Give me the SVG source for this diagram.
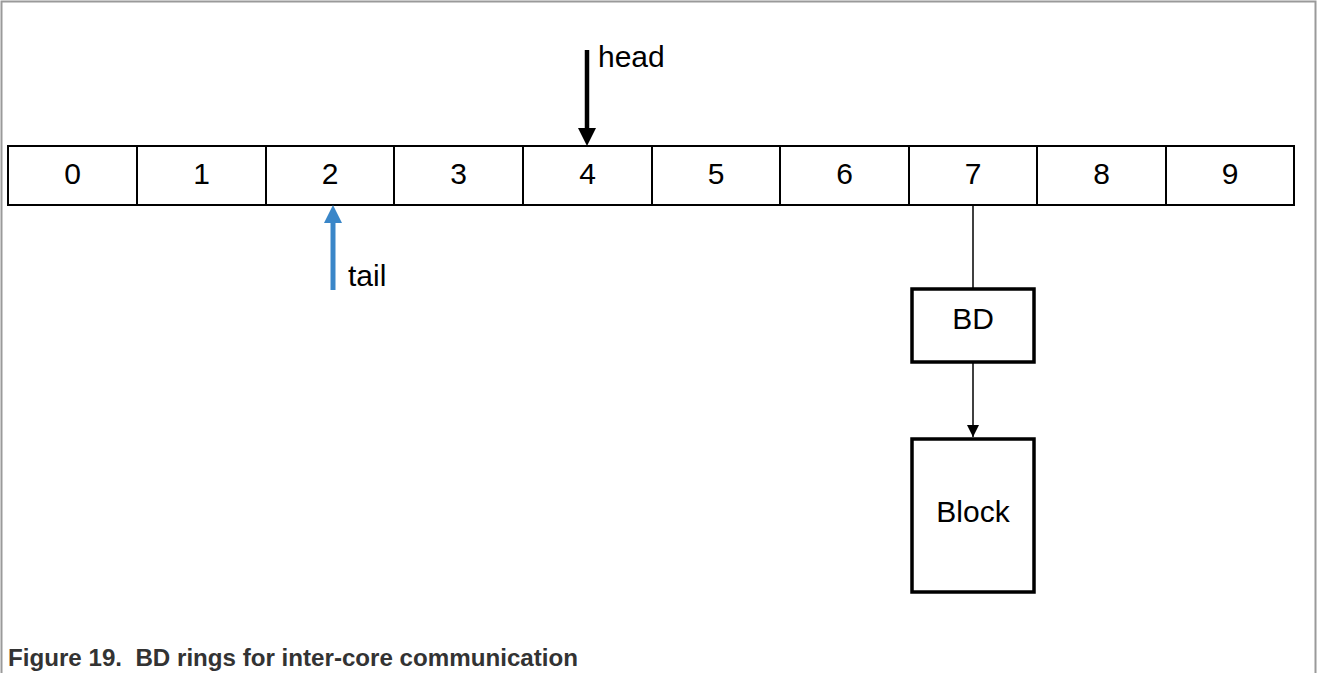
<svg xmlns="http://www.w3.org/2000/svg" width="1317" height="673" viewBox="0 0 1317 673">
<style>
.cell{fill:#fff;stroke:#000;stroke-width:2}
.box{fill:#fff;stroke:#000;stroke-width:3.5}
.t{font-family:"Liberation Sans",Arial,sans-serif;font-size:30px;fill:#000}
.c{text-anchor:middle}
.cap{font-family:"Liberation Sans",Arial,sans-serif;font-size:24px;font-weight:bold;fill:#333;white-space:pre}
</style>
<defs>
<marker id="ah" markerWidth="12" markerHeight="12" refX="12" refY="6" orient="auto" markerUnits="userSpaceOnUse"><path d="M0,0 L12,6 L0,12 Z" fill="#000"/></marker>
</defs>
<g id="frame" fill="none" stroke="#9a9a9a" stroke-width="2">
<path d="M1.5,673 V1.5 H1315.5 V673"/>
</g>
<g id="ring">
<rect class="cell" x="8" y="146" width="129" height="59"/>
<rect class="cell" x="137" y="146" width="129" height="59"/>
<rect class="cell" x="266" y="146" width="128" height="59"/>
<rect class="cell" x="394" y="146" width="129" height="59"/>
<rect class="cell" x="523" y="146" width="129" height="59"/>
<rect class="cell" x="652" y="146" width="128" height="59"/>
<rect class="cell" x="780" y="146" width="129" height="59"/>
<rect class="cell" x="909" y="146" width="128" height="59"/>
<rect class="cell" x="1037" y="146" width="129" height="59"/>
<rect class="cell" x="1166" y="146" width="128" height="59"/>
<text class="t c" x="72.5" y="184">0</text>
<text class="t c" x="201.5" y="184">1</text>
<text class="t c" x="330" y="184">2</text>
<text class="t c" x="458.5" y="184">3</text>
<text class="t c" x="587.5" y="184">4</text>
<text class="t c" x="716" y="184">5</text>
<text class="t c" x="844.5" y="184">6</text>
<text class="t c" x="973" y="184">7</text>
<text class="t c" x="1101.5" y="184">8</text>
<text class="t c" x="1230" y="184">9</text>
</g>
<g id="head">
<line x1="587" y1="50" x2="587" y2="130" stroke="#000" stroke-width="4.5"/>
<path d="M578,128 L596,128 L587,146 Z" fill="#000"/>
<text class="t" x="598" y="67">head</text>
</g>
<g id="tail">
<line x1="333" y1="290" x2="333" y2="221" stroke="#3a86c8" stroke-width="5"/>
<path d="M324,223 L342,223 L333,205 Z" fill="#3a86c8"/>
<text class="t" x="348" y="286">tail</text>
</g>
<g id="bd">
<rect class="box" x="912" y="289" width="122" height="73"/>
<text class="t c" x="973" y="329">BD</text>
</g>
<g id="block">
<rect class="box" x="912" y="439" width="122" height="153"/>
<text class="t c" x="973" y="522">Block</text>
</g>
<g id="connectors" stroke="#000" stroke-width="1.5" fill="none">
<line x1="973" y1="205" x2="973" y2="289"/>
<line x1="973" y1="362" x2="973" y2="437" marker-end="url(#ah)"/>
</g>
<text class="cap" x="8" y="666" xml:space="preserve" textLength="570" lengthAdjust="spacingAndGlyphs">Figure 19.  BD rings for inter-core communication</text>
</svg>
